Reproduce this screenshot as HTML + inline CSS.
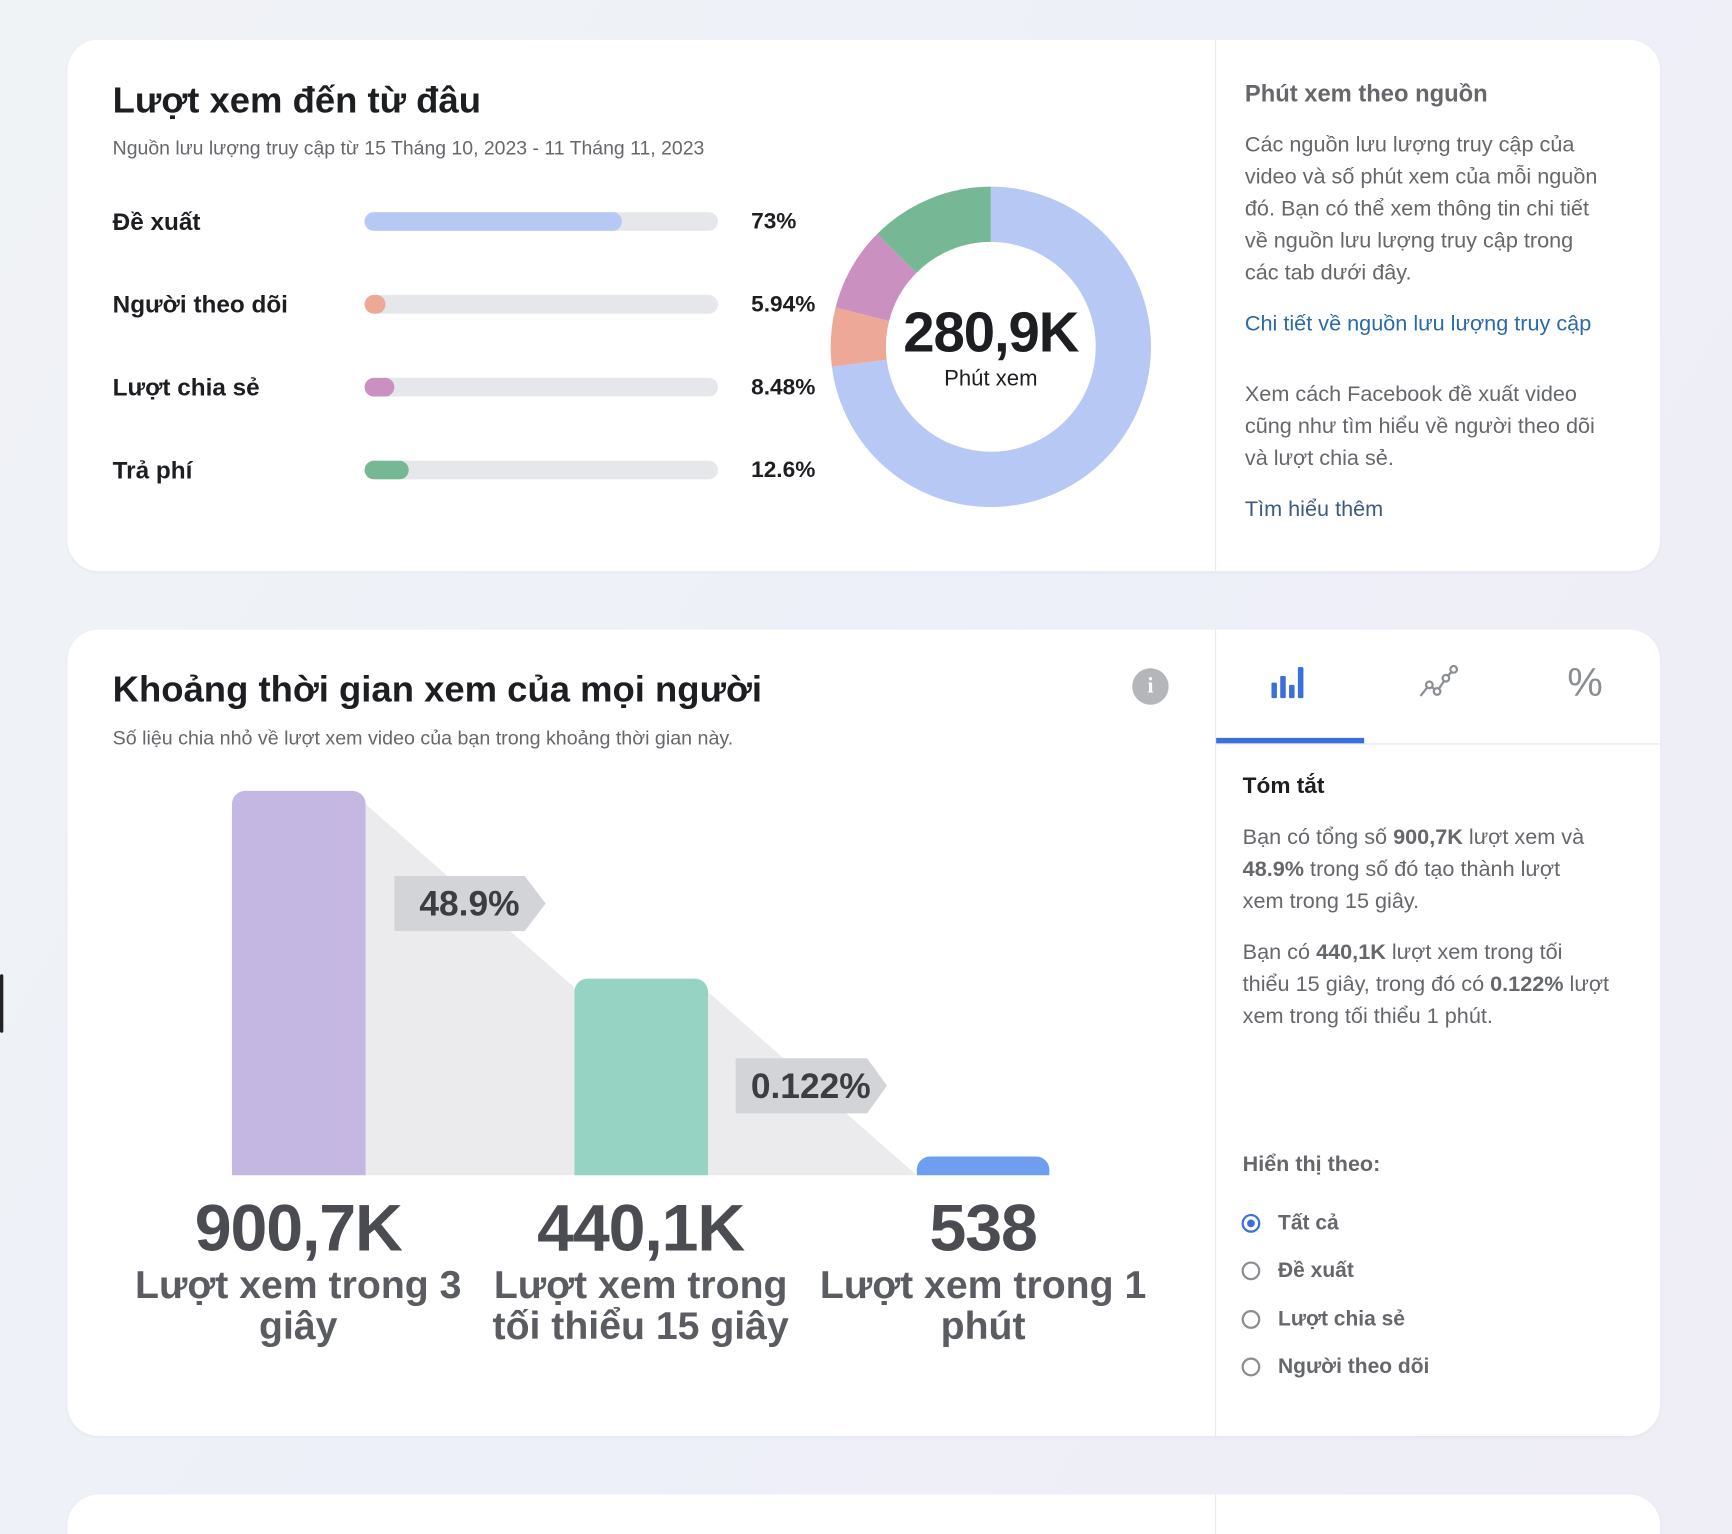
<!DOCTYPE html>
<html><head><meta charset="utf-8"><style>
html,body{margin:0;padding:0;width:1732px;height:1534px;overflow:hidden;background:#eef1f7}
#w{position:absolute;left:0;top:0;width:1568px;height:1389px;overflow:hidden;transform:scale(1.10459);transform-origin:0 0;background:linear-gradient(120deg,#f0f3f6 0%,#edf0f8 50%,#efedf6 100%);font-family:"Liberation Sans","DejaVu Sans",sans-serif;color:#1c1e21}
.card{position:absolute;left:61px;width:1442px;background:#fff;border-radius:28px;box-shadow:0 1px 3px rgba(0,0,0,.04)}
.t{position:absolute;white-space:nowrap}
.vl{position:absolute;left:1039px;top:0;bottom:0;width:1px;background:#e8e9ec}
.g{color:#65676b}
.b{font-weight:bold}
.bar{position:absolute;left:269px;width:320px;height:17px;border-radius:9px;background:#e6e7ea;overflow:hidden}
.bar i{position:absolute;left:0;top:0;bottom:0;border-radius:9px}
.p{font-size:19.6px;line-height:29px;color:#65676b}
.rad{position:absolute;left:1063px;width:17px;height:17px;border:2px solid #8a8d91;border-radius:50%;box-sizing:border-box}
</style></head><body><div id="w">
<div style="position:absolute;left:0;top:882px;width:3px;height:53px;background:#222;border-radius:2px"></div>

<div class="card" style="top:36px;height:481px">
  <div class="vl"></div>
  <div class="t b" style="left:41px;top:35px;font-size:33px;line-height:40px">Lượt xem đến từ đâu</div>
  <div class="t g" style="left:41px;top:87px;font-size:17.6px;line-height:22px">Nguồn lưu lượng truy cập từ 15 Tháng 10, 2023 - 11 Tháng 11, 2023</div>
  <div class="t b" style="left:41px;top:152px;font-size:22px;line-height:26px">Đề xuất</div>
  <div class="t b" style="left:41px;top:227px;font-size:22px;line-height:26px">Người theo dõi</div>
  <div class="t b" style="left:41px;top:302px;font-size:22px;line-height:26px">Lượt chia sẻ</div>
  <div class="t b" style="left:41px;top:377px;font-size:22px;line-height:26px">Trả phí</div>
  <div class="bar" style="top:156px"><i style="width:233px;background:#b8c8f5"></i></div>
  <div class="bar" style="top:231px"><i style="width:19px;background:#eda898"></i></div>
  <div class="bar" style="top:306px"><i style="width:27px;background:#c990c0"></i></div>
  <div class="bar" style="top:381px"><i style="width:40px;background:#76b796"></i></div>
  <div class="t b" style="left:619px;top:153px;font-size:20.5px;line-height:24px">73%</div>
  <div class="t b" style="left:619px;top:228px;font-size:20.5px;line-height:24px">5.94%</div>
  <div class="t b" style="left:619px;top:303px;font-size:20.5px;line-height:24px">8.48%</div>
  <div class="t b" style="left:619px;top:378px;font-size:20.5px;line-height:24px">12.6%</div>
  <svg style="position:absolute;left:686px;top:128px" width="300" height="300" viewBox="0 0 300 300">
    <g transform="rotate(-90 150 150)" fill="none" stroke-width="50">
      <circle cx="150" cy="150" r="120" stroke="#b8c8f5" stroke-dasharray="550.4 753.98" stroke-dashoffset="0"/>
      <circle cx="150" cy="150" r="120" stroke="#eda898" stroke-dasharray="44.8 753.98" stroke-dashoffset="-550.4"/>
      <circle cx="150" cy="150" r="120" stroke="#c990c0" stroke-dasharray="63.9 753.98" stroke-dashoffset="-595.2"/>
      <circle cx="150" cy="150" r="120" stroke="#76b796" stroke-dasharray="95 753.98" stroke-dashoffset="-659.1"/>
    </g>
  </svg>
  <div class="t b" style="left:736px;width:200px;text-align:center;top:236px;font-size:51px;line-height:58px;letter-spacing:-1px">280,9K</div>
  <div class="t" style="left:736px;width:200px;text-align:center;top:295px;font-size:20px;line-height:24px">Phút xem</div>
  <div class="t b g" style="left:1066px;top:36px;font-size:21.5px;line-height:26px">Phút xem theo nguồn</div>
  <div class="t p" style="left:1066px;top:81px">Các nguồn lưu lượng truy cập của<br>video và số phút xem của mỗi nguồn<br>đó. Bạn có thể xem thông tin chi tiết<br>về nguồn lưu lượng truy cập trong<br>các tab dưới đây.</div>
  <div class="t p" style="left:1066px;top:243px;color:#2a6aab">Chi tiết về nguồn lưu lượng truy cập</div>
  <div class="t p" style="left:1066px;top:307px">Xem cách Facebook đề xuất video<br>cũng như tìm hiểu về người theo dõi<br>và lượt chia sẻ.</div>
  <div class="t p" style="left:1066px;top:411px;color:#3d5a80">Tìm hiểu thêm</div>
</div>

<div class="card" style="top:570px;height:730px">
  <div class="vl"></div>
  <div class="t b" style="left:41px;top:34px;font-size:33px;line-height:40px">Khoảng thời gian xem của mọi người</div>
  <div class="t g" style="left:41px;top:87px;font-size:17.8px;line-height:22px">Số liệu chia nhỏ về lượt xem video của bạn trong khoảng thời gian này.</div>
  <div style="position:absolute;left:964px;top:35px;width:33px;height:33px;border-radius:50%;background:#b4b6ba;color:#fff;font:bold 20px/33px 'Liberation Serif',serif;text-align:center">i</div>
  <svg style="position:absolute;left:1090px;top:32px" width="36" height="32"><g fill="#3b6fd9"><rect x="0" y="16" width="5" height="14" rx="1"/><rect x="8" y="10" width="5" height="20" rx="1"/><rect x="16" y="18" width="5" height="12" rx="1"/><rect x="24" y="2" width="5" height="28" rx="1"/></g></svg>
  <svg style="position:absolute;left:1222px;top:32px" width="38" height="32"><polyline points="3,28 11,18 18,24 26,12 33,4" fill="none" stroke="#8a8d91" stroke-width="2"/><g fill="#fff" stroke="#8a8d91" stroke-width="2"><circle cx="11" cy="18" r="3"/><circle cx="18" cy="24" r="3"/><circle cx="26" cy="12" r="3"/><circle cx="33" cy="4" r="3"/></g></svg>
  <div class="t" style="left:1358px;top:28px;font-size:36px;line-height:40px;color:#8a8d91">%</div>
  <div style="position:absolute;left:1040px;top:98px;width:134px;height:5px;background:#3a6fdc"></div>
  <div style="position:absolute;left:1040px;top:103px;width:402px;height:1px;background:#e4e6eb"></div>
  <svg style="position:absolute;left:0;top:0" width="1040" height="730">
    <polygon points="270,158 459,324 459,494 270,494" fill="#ebebee"/>
    <polygon points="580,328 769,494 580,494" fill="#ebebee"/>
    <path d="M149,494 V158 a12,12 0 0 1 12,-12 h97 a12,12 0 0 1 12,12 V494 Z" fill="#c4b8e2"/>
    <path d="M459,494 V328 a12,12 0 0 1 12,-12 h97 a12,12 0 0 1 12,12 V494 Z" fill="#96d3c3"/>
    <path d="M769,494 V489 a12,12 0 0 1 12,-12 h96 a12,12 0 0 1 12,12 V494 Z" fill="#6f9ef0"/>
    <polygon points="296,223 414,223 433,248 414,273 296,273" fill="#d3d4d8"/>
    <polygon points="605,388 724,388 742,413 724,438 605,438" fill="#d3d4d8"/>
    <text x="364" y="259" text-anchor="middle" font-family="Liberation Sans" font-weight="bold" font-size="32" fill="#3c3d42">48.9%</text>
    <text x="673" y="424" text-anchor="middle" font-family="Liberation Sans" font-weight="bold" font-size="32" fill="#3c3d42">0.122%</text>
    <g font-family="Liberation Sans" font-weight="bold" text-anchor="middle">
      <text x="209" y="562" font-size="60" fill="#4b4c52" letter-spacing="-1">900,7K</text>
      <text x="519" y="562" font-size="60" fill="#4b4c52" letter-spacing="-1">440,1K</text>
      <text x="829" y="562" font-size="60" fill="#4b4c52" letter-spacing="-1">538</text>
      <g font-size="35.5" fill="#5a5c62">
        <text x="209" y="605">Lượt xem trong 3</text><text x="209" y="642">giây</text>
        <text x="519" y="605">Lượt xem trong</text><text x="519" y="642">tối thiểu 15 giây</text>
        <text x="829" y="605">Lượt xem trong 1</text><text x="829" y="642">phút</text>
      </g>
    </g>
  </svg>
  <div class="t b" style="left:1064px;top:129px;font-size:20.5px;line-height:26px">Tóm tắt</div>
  <div class="t p" style="left:1064px;top:174px">Bạn có tổng số <b>900,7K</b> lượt xem và<br><b>48.9%</b> trong số đó tạo thành lượt<br>xem trong 15 giây.</div>
  <div class="t p" style="left:1064px;top:278px">Bạn có <b>440,1K</b> lượt xem trong tối<br>thiểu 15 giây, trong đó có <b>0.122%</b> lượt<br>xem trong tối thiểu 1 phút.</div>
  <div class="t b g" style="left:1064px;top:472px;font-size:19.5px;line-height:24px">Hiển thị theo:</div>
  <div class="rad" style="top:529px;border-color:#3a6fdc"><div style="position:absolute;left:3px;top:3px;width:7px;height:7px;border-radius:50%;background:#3a6fdc"></div></div>
  <div class="rad" style="top:572px"></div>
  <div class="rad" style="top:616px"></div>
  <div class="rad" style="top:659px"></div>
  <div class="t b g" style="left:1096px;top:526px;font-size:19px;line-height:24px">Tất cả</div>
  <div class="t b g" style="left:1096px;top:569px;font-size:19px;line-height:24px">Đề xuất</div>
  <div class="t b g" style="left:1096px;top:613px;font-size:19px;line-height:24px">Lượt chia sẻ</div>
  <div class="t b g" style="left:1096px;top:656px;font-size:19px;line-height:24px">Người theo dõi</div>
</div>

<div class="card" style="top:1353px;height:100px"><div class="vl"></div></div>
</div></body></html>
